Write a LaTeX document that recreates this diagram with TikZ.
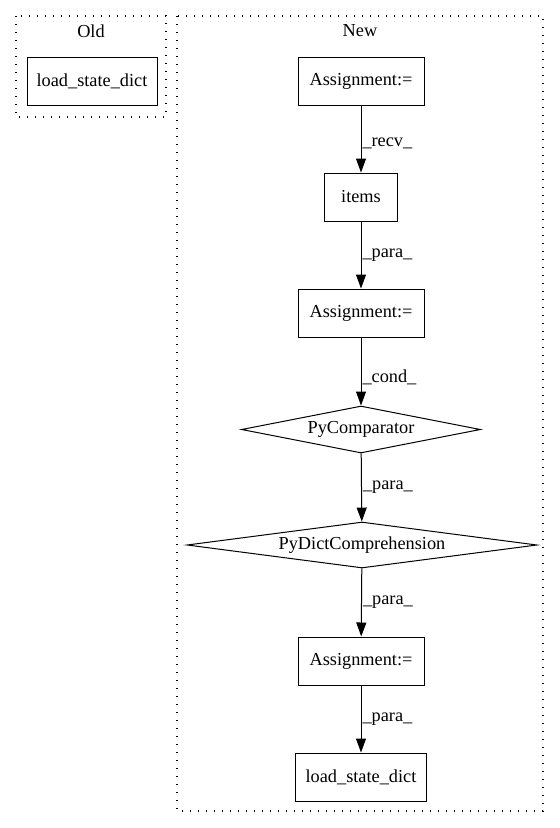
\documentclass[tikz,border=0pt]{standalone}
\usepackage{fontspec}
\setmainfont{Liberation Serif}
\usetikzlibrary{shapes.geometric,arrows.meta}
\begin{document}
\begin{tikzpicture}[x=1pt,y=-1pt,line width=1pt,
	opbox/.style={draw,rectangle,minimum height=48pt,inner sep=0pt},
	cmpnode/.style={draw,diamond,minimum height=47pt,inner sep=0pt},
	cluster/.style={draw,line width=1.3pt,dash pattern=on 1.3pt off 6.7pt},
	elabel/.style={right,inner xsep=1pt,pos=0.5},
	flow/.style={-{Triangle[length=14pt,width=10pt]}}]
	\fontsize{18.3}{21}\selectfont
	\useasboundingbox (0,0) rectangle (560,828);
	% clusters
	\draw[cluster] (16,16) rectangle (166,117);
	\draw[cluster] (177,16) rectangle (543,811);
	\node (old) at (91,31) {Old};
	\node (new) at (360,31) {New};
	% old side
	\node[opbox,minimum width=130pt] (oldload) at (92,81) {load\_state\_dict};
	% new side
	\node[opbox,minimum width=126pt] (asgtop) at (361,81) {Assignment:=};
	\node[opbox,minimum width=73pt] (items) at (361,197) {items};
	\node[opbox,minimum width=126pt] (asgmid) at (361,313) {Assignment:=};
	\node[cmpnode,aspect=5,minimum width=239pt] (cmp) at (361,429.5) {PyComparator};
	\node[cmpnode,aspect=8,minimum width=350pt,minimum height=46pt] (dict) at (362,545) {PyDictComprehension};
	\node[opbox,minimum width=126pt] (asgbot) at (361,661) {Assignment:=};
	\node[opbox,minimum width=131pt] (newload) at (361,777) {load\_state\_dict};
	\draw[flow] (asgtop) -- node[elabel,pos=0.56] {\_recv\_} (items);
	\draw[flow] (items) -- node[elabel] {\_para\_} (asgmid);
	\draw[flow] (asgmid) -- node[elabel,pos=0.58] {\_cond\_} (cmp);
	\draw[flow] (cmp) -- node[elabel] {\_para\_} (dict);
	\draw[flow] (dict) -- node[elabel] {\_para\_} (asgbot);
	\draw[flow] (asgbot) -- node[elabel] {\_para\_} (newload);
\end{tikzpicture}
\end{document}
